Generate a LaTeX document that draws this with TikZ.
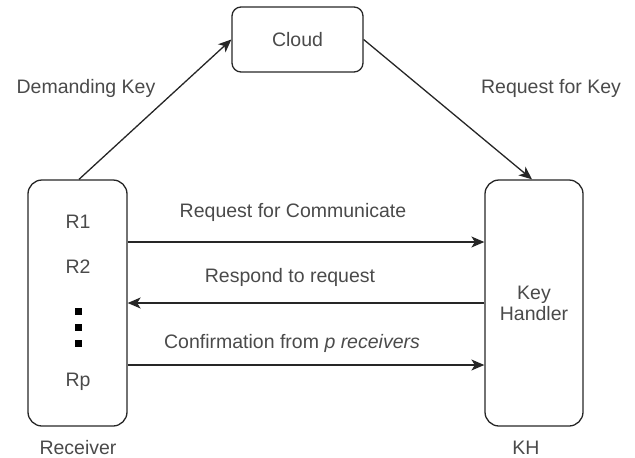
\documentclass[tikz,border=0pt]{standalone}
\usepackage{fontspec}
\setmainfont{Liberation Sans}
\usetikzlibrary{arrows.meta}
\definecolor{txt}{HTML}{4A4A4A}
\tikzset{
  box/.style={draw=black!85, line width=1.3pt, rounded corners=14pt},
  lbl/.style={text=txt, font=\fontsize{19.5}{22}\selectfont, inner sep=0pt},
  conn/.style={draw=black!85, line width=1.3pt, -{Stealth[length=13pt,width=11pt,inset=3.5pt]}},
  dot/.style={fill=black, draw=none, minimum size=7pt, inner sep=0pt}
}
\begin{document}
\begin{tikzpicture}[x=1pt,y=-1pt]
\useasboundingbox (0,0) rectangle (635,458);
% boxes
\node[box, minimum width=99pt, minimum height=246pt] (rec) at (77.5,303) {};
\node[box, minimum width=98pt, minimum height=246pt, align=center, lbl, inner sep=0pt] (kh) at (534,303) {Key\\[-1pt]Handler};
\node[box, rounded corners=9pt, minimum width=131pt, minimum height=65pt] (cloud) at (297.5,39.5) {};
\node[lbl] at (297.5,39.5) {Cloud};
% receiver content
\node[lbl] (r1) at (78,222) {R1};
\node[lbl] (r2) at (78,267) {R2};
\node[dot] (d1) at (78,311) {};
\node[dot] (d2) at (78,327) {};
\node[dot] (d3) at (78,343) {};
\node[lbl] (rp) at (78,382) {Rp};
% outside labels
\node[lbl] (reclbl) at (78,448) {Receiver};
\node[lbl] (khlbl) at (526,448) {KH};
\node[lbl] (dk) at (86,88) {Demanding Key};
\node[lbl] (rk) at (551,88) {Request for Key};
\node[lbl] (rc) at (293,212) {Request for Communicate};
\node[lbl] (rr) at (290,277) {Respond to request};
\node[lbl] (cf) at (292,343) {Confirmation from \textit{p receivers}};
% connectors
\coordinate (recTop) at ([xshift=1.5pt]rec.north);
\coordinate (khTop) at ([xshift=-2pt]kh.north);
\draw[conn] (recTop) -- (cloud.west);
\draw[conn] (cloud.east) -- (khTop);
\draw[conn] (rec.east |- 0,242) -- (kh.west |- 0,242);
\draw[conn] (kh.west |- 0,303) -- (rec.east |- 0,303);
\draw[conn] (rec.east |- 0,365) -- (kh.west |- 0,365);
\end{tikzpicture}
\end{document}
